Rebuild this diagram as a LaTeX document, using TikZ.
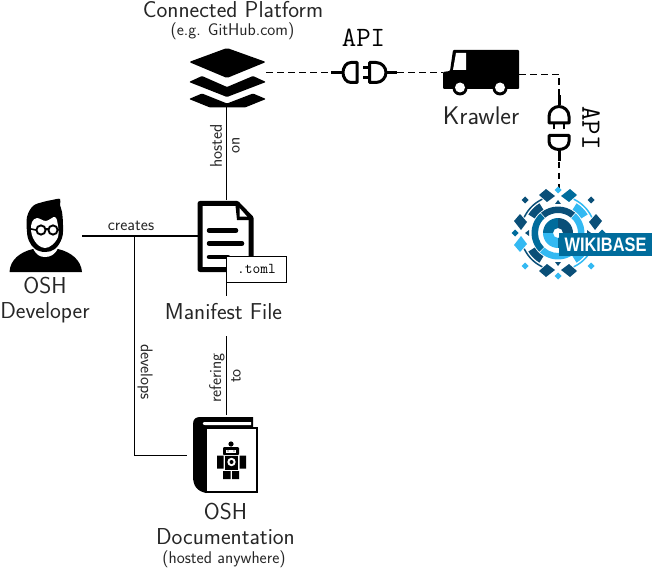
\documentclass[tikz,border=0pt]{standalone}
\usepackage{fontspec}
\setmainfont{Latin Modern Sans}
\setmonofont{Latin Modern Mono}
\newfontfamily\wbfont{Liberation Sans}
\usetikzlibrary{arrows.meta}
\definecolor{wbdark}{HTML}{0A4F78}
\definecolor{wbmid}{HTML}{006C9C}
\definecolor{wblight}{HTML}{33B9F2}
\colorlet{txt}{black!85}
\newcommand{\wbsect}[5]{\fill[#1] (#4:#3) arc (#4:#5:#3) -- (#5:#2) arc (#5:#4:#2) -- cycle;}
\tikzset{
  x=1pt,y=-1pt,
  icon/.style={inner sep=0pt,outer sep=0pt,minimum width=#1},
  title/.style={inner sep=0pt,align=center,font=\fontsize{23}{25}\selectfont,text=txt},
  subtitle/.style={inner sep=0pt,font=\fontsize{17}{19}\selectfont,text=txt},
  edgelabel/.style={inner sep=0pt,font=\fontsize{17}{19}\selectfont,text=txt},
  apilabel/.style={inner sep=0pt,font=\ttfamily\fontsize{28}{30}\selectfont},
  solidlink/.style={line width=1.1pt},
  dashlink/.style={line width=1.1pt,dash pattern=on 6.5pt off 4.5pt},
  plugpart/.style={line width=3pt,fill=white,line join=round},
  plugpair/.pic={
    % socket
    \draw[line width=3pt] (-18,0) -- (-29,0);
    \draw[plugpart] (-3,-10) -- (-9,-10) .. controls (-14,-10) and (-17,-5) .. (-17,0)
       .. controls (-17,5) and (-14,10) .. (-9,10) -- (-3,10) -- cycle;
    % plug
    \draw[line width=3pt] (27,0) -- (37,0);
    \draw[line width=2.6pt] (3,-5) -- (9,-5) (3,5) -- (9,5);
    \draw[plugpart] (9.5,-10) -- (16,-10) .. controls (22,-10) and (26,-5) .. (26,0)
       .. controls (26,5) and (22,10) .. (16,10) -- (9.5,10) -- cycle;
  },
}
\begin{document}
\begin{tikzpicture}
\useasboundingbox (0,0) rectangle (652,569);

% ---------- named anchors of the icons
\node[icon=78pt,minimum height=60pt] (platform) at (227,78) {};
\node[icon=76pt,minimum height=40pt] (truck) at (481,73) {};
\node[icon=56pt,minimum height=72pt] (manifest) at (226,236) {};
\node[icon=64pt,minimum height=77pt] (book) at (226,455) {};
\node[icon=72pt,minimum height=74pt] (developer) at (46,236) {};
\node[icon=88pt,minimum height=88pt] (wikibase) at (559,234) {};
\coordinate (apiL) at (332,72.5);
\coordinate (apiR) at (397,72.5);
\coordinate (apiT) at (559,97);
\coordinate (apiB) at (559,162);
\coordinate (corner) at (559,74.5);
\coordinate (branch) at (134.5,236);
\coordinate (bend) at (134.5,455.5);
\coordinate (bookin) at (187,455.5);
\coordinate (truckW) at (truck.west |- apiR);
\coordinate (truckE) at (truck.east |- corner);
\coordinate (bookTop) at (226.5,415);

% ---------- text nodes
\node[title] (lPlatform) at (233,10) {Connected Platform};
\node[subtitle] (lGit) at (232.5,31) {(e.g. GitHub.com)};
\node[title] (lManifest) at (223.5,312) {Manifest File};
\node[title] (lDev) at (45,300.5) {OSH\\Developer};
\node[title] (lDoc) at (225.5,524) {OSH\\Documentation};
\node[subtitle] (lHosted) at (224,559) {(hosted anywhere)};
\node[title,font=\fontsize{25.5}{27}\selectfont] (lKrawler) at (481,116) {Krawler};
\node[apilabel] (lApi1) at (363.5,38) {API};
\node[apilabel,rotate=-90] (lApi2) at (591,128) {API};

% ---------- connectors
\draw[solidlink] (226.5,106) -- (226.5,200);
\draw[solidlink] (developer.east |- branch) -- (manifest.west |- branch);
\draw[solidlink] (branch) -- (bend) -- (bookin);
\draw[solidlink] (226.5,282) -- (226.5,296);
\draw[solidlink] (226.5,336) -- (bookTop);
\draw[dashlink] (platform.east |- apiL) -- (apiL);
\draw[dashlink] (apiR) -- (truckW);
\draw[dashlink] (truckE) -- (corner) -- (apiT);
\draw[dashlink] (apiB) -- (wikibase.north);

% ---------- connector labels
\node[edgelabel] (eCreates) at (131,226) {creates};
\node[edgelabel,rotate=90] (eHosted) at (216,146) {hosted};
\node[edgelabel,rotate=90] (eOn) at (236,145) {on};
\node[edgelabel,rotate=90] (eRef) at (217,378) {refering};
\node[edgelabel,rotate=90] (eTo) at (236,376) {to};
\node[edgelabel,rotate=-90] (eDev) at (145,372) {develops};

% ---------- plugs
\pic at (360,72.5) {plugpair};
\pic[rotate=90] at (559,132.5) {plugpair};

% ---------- layers icon
\fill[rounded corners=1.5pt] (227,48) -- (266,62) -- (227,78) -- (189,62) -- cycle;
\fill[rounded corners=1pt] (189,82) -- (202,76) -- (227,87) -- (253,76) -- (266,82) -- (227,97) -- cycle;
\fill[rounded corners=1pt] (189,99) -- (202,93.5) -- (227,103.5) -- (253,93.5) -- (266,99) -- (245,107.5) -- (210,107.5) -- cycle;

% ---------- truck icon
\fill[rounded corners=1pt] (453,50) -- (519,50) -- (519,89) -- (443,89) -- (443,72) -- (450,71) -- cycle;
\fill[white] (456,53) -- (466,53) -- (466,70) -- (453,70) -- cycle;
\fill (460,88) circle (7.5) (500,88) circle (7.5);
\fill[white] (460,87.5) circle (5) (500,87.5) circle (5);

% ---------- developer icon
\fill (9.5,272) .. controls (10,260) and (20,252) .. (33,249) -- (58,249)
  .. controls (71,252) and (81,260) .. (82,272) -- cycle;
\fill[white] (33,248) .. controls (36,255) and (40,257) .. (45,257) .. controls (50,257) and (55,255) .. (58,248) -- cycle;
\fill plot[smooth cycle,tension=.6] coordinates {(27,232) (27,217) (33,206) (43,202) (52,200) (60,199) (60,205) (62,212) (63,225) (62,238) (55,249) (45,252) (35,249) (29,241)};
\fill[white] plot[smooth cycle,tension=.6] coordinates {(31,230) (32,222) (37,218) (46,221) (55,217) (58,226) (58,237) (52,245) (45,248) (38,245) (33,238)};
\draw[line width=1.9pt,fill=white] (41,230) circle (4.6) (53,230) circle (4.6);
\draw[line width=1.6pt] (45,229) -- (49,229) (36,230) -- (31,229) (58,230) -- (60,229);

% ---------- manifest icon
\draw[line width=5pt,line join=round,fill=white] (200,203.5) -- (237,203.5) -- (251,218) -- (251,269.5) -- (200,269.5) -- cycle;
\fill (235,201) -- (253,220) -- (237,220) -- cycle;
\fill[white] (239.5,208) -- (247,216.5) -- (239.5,216.5) -- cycle;
\draw[line width=4.5pt,line cap=round] (209,230.5) -- (236,230.5) (209,243.5) -- (242,243.5) (209,257) -- (228,257);
\node[draw,fill=white,line width=1pt,minimum width=60pt,minimum height=26pt,inner sep=0pt,font=\ttfamily\fontsize{15}{17}\selectfont] (tag) at (256.5,269) {.toml};

% ---------- book icon
\fill (193,424) .. controls (193,419) and (196,417) .. (200,417) -- (253,417) -- (253,430) -- (206,430) -- (206,493)
  .. controls (197,491) and (193,486) .. (193,476) -- cycle;
\fill[white] (205,422) -- (251,422) -- (251,425) -- (205,425) .. controls (202,425) and (202,422) .. (205,422) -- cycle;
\draw[line width=2pt,fill=white] (206,427.5) -- (256.5,427.5) -- (256.5,491.5) -- (206,491.5) -- cycle;
% robot
\fill (231,444) circle (2.6);
\fill[rounded corners=1pt] (223,447) -- (239,447) -- (239,455) -- (223,455) -- cycle;
\fill[white] (226,450) rectangle (236,452.5);
\fill (228,451) circle (.7) (234,451) circle (.7);
\fill (225,456) rectangle (238,470);
\fill (217,455.5) rectangle (223.5,468.5) (239.5,455.5) rectangle (246,468.5);
\fill (223,471) rectangle (230.5,479) (232,471) rectangle (239,479);
\fill[white] (231.5,462) circle (4.2);
\fill (231.5,462) circle (2);

% ---------- wikibase logo
\begin{scope}[shift={(558,233)},x=1pt,y=1pt]
  \foreach \px/\py/\c in {0/43/wblight,0/-43/wblight,-43/0/wbmid,44/0/wbmid,-33/33/wbdark,33/33/wbdark,-33/-33/wblight,33/-33/wblight}
    \fill[\c] (\px-3.5,\py) -- (\px,\py+3.5) -- (\px+3.5,\py) -- (\px,\py-3.5) -- cycle;
  \foreach \ang/\ca/\cb in {0/wbdark/wbmid,90/wblight/wbdark,180/wbdark/wbdark,270/wbdark/wbdark}{
    \begin{scope}[rotate=\ang]
      \fill[\ca] (-19,38) -- (-12,44) -- (-3,37) -- (-11,31) -- cycle;
      \fill[\cb] (19,38) -- (12,44) -- (3,37) -- (11,31) -- cycle;
      \fill[wbdark] (-3,29) -- (0,33) -- (3,29) -- cycle;
    \end{scope}}
  \wbsect{wbdark}{36.5}{38}{115}{155}
  \wbsect{wblight}{36.5}{38}{25}{65}
  \wbsect{wblight}{36.5}{38}{-65}{-25}
  \wbsect{wbdark}{36.5}{38}{205}{245}
  \wbsect{wbdark}{27.5}{35}{122}{148}
  \wbsect{wblight}{27.5}{35}{32}{58}
  \wbsect{wblight}{27.5}{35}{-58}{-32}
  \wbsect{wbdark}{27.5}{35}{212}{238}
  \wbsect{wbdark}{20}{26.5}{50}{130}
  \wbsect{wblight}{20}{26.5}{-40}{48}
  \wbsect{wbmid}{20}{26.5}{132}{225}
  \wbsect{wblight}{20}{26.5}{227}{318}
  \fill[white] (0,0) circle (18);
  \wbsect{wbmid}{5}{15}{90}{180}
  \wbsect{wbdark}{5}{15}{0}{90}
  \wbsect{wblight}{5}{15}{180}{270}
  \wbsect{wbmid}{5}{15}{270}{360}
\end{scope}
\fill[wbmid] (559,233) rectangle (652,256);
\node[inner sep=0pt,text=white,xscale=.84,font=\wbfont\bfseries\fontsize{19.5}{20}\selectfont] (wbtext) at (605.5,245) {WIKIBASE};
\end{tikzpicture}
\end{document}
